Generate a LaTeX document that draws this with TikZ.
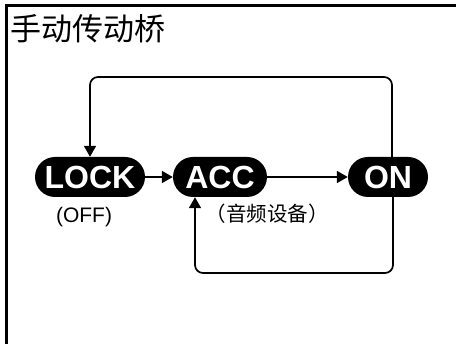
\documentclass[tikz,border=0pt]{standalone}
\usepackage{fontspec}
\newfontfamily\lsans{Liberation Sans}
\newfontfamily\cjk{Noto Sans CJK SC}
\usetikzlibrary{arrows.meta,calc}
\tikzset{
  pill/.style={rectangle, fill=black, text=white, rounded corners=20pt,
    minimum height=40pt, inner sep=0pt, font=\lsans\bfseries\fontsize{32}{32}\selectfont},
  conn/.style={line width=1.7pt, -{Triangle[length=11pt,width=12pt]}},
  loopconn/.style={conn, rounded corners=8pt},
  frame/.style={line width=3pt}
}
\begin{document}
\begin{tikzpicture}[x=1pt,y=-1pt]
\useasboundingbox (0,0) rectangle (456,344);
% frame
\coordinate (fbl) at (6,344);
\coordinate (ftl) at (6,6);
\coordinate (ftr) at (456,6);
\draw[frame] (fbl) -- (ftl) -- (ftr);
% title
\node[anchor=west, inner sep=0pt, font=\cjk\fontsize{31}{31}\selectfont] (title) at (10,29) {手动传动桥};
% pills
\node[pill, minimum width=110pt] (lock) at (90,177) {LOCK};
\node[pill, minimum width=94pt] (acc) at (220,177) {ACC};
\node[pill, minimum width=80pt] (on) at (388,177) {ON};
% labels
\node[font=\lsans\fontsize{21}{21}\selectfont, inner sep=0pt] (off) at (84,217) {(OFF)};
\node[font=\cjk\fontsize{20.5}{20.5}\selectfont, inner sep=0pt] (audio) at (267,214) {（音频设备）};
% connectors
\draw[conn] (lock) -- (acc);
\draw[conn] (acc) -- (on);
\coordinate (tr) at (392,77);
\coordinate (br) at (393,273);
\coordinate (bl) at (195,273);
\draw[loopconn] ([xshift=4pt]on.north) -- (tr) -| (lock.north);
\draw[loopconn] ([xshift=5pt]on.south) -- (br) -- (bl) -- (bl |- acc.south);
\end{tikzpicture}
\end{document}
